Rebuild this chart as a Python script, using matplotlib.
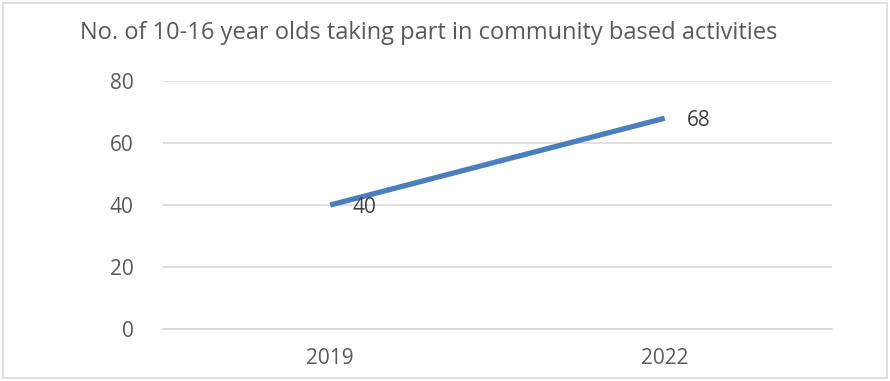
import matplotlib.pyplot as plt
from matplotlib.patches import Rectangle

years = ["2019", "2022"]
counts = [40, 68]
yticks = [0, 20, 40, 60, 80]
title = "No. of 10-16 year olds taking part in community based activities"

txt = "#595959"
blue = "#4a7ebf"
grid = "#d9d9d9"

plt.rcParams['font.family'] = ['Open Sans', 'DejaVu Sans']

fig = plt.figure(figsize=(8.9, 3.81), dpi=100)
ax = fig.add_axes([163/890, 1-329/381, (832-163)/890, (329-81)/381])

x = list(range(len(years)))
ax.plot(x, counts, color=blue, lw=3.8, solid_capstyle='butt', zorder=3)
for xi, v in zip(x, counts):
    ax.annotate(str(v), (xi, v), xytext=(16, -2), textcoords='offset points',
                ha='left', va='center', fontsize=15, color="#404040", zorder=4)

ax.set_xlim(-0.5, len(years)-0.5)
ax.set_ylim(0, 80)
ax.set_yticks(yticks)
ax.set_xticks(x)
ax.set_xticklabels(years)
ax.tick_params(axis='both', length=0, labelsize=15, labelcolor=txt)
ax.tick_params(axis='y', pad=21)
ax.tick_params(axis='x', pad=14)
ax.yaxis.grid(True, color=grid, lw=1.2)
ax.set_axisbelow(True)
for s in ['top', 'right', 'left']:
    ax.spines[s].set_visible(False)
ax.spines['bottom'].set_color(grid)
ax.spines['bottom'].set_linewidth(1.2)

fig.text(80/890, 1-33/381, title, fontsize=17, color=txt, ha='left', va='center')
fig.patches.append(Rectangle((3/890, 3/381), 884/890, 375/381, transform=fig.transFigure,
                             fill=False, edgecolor=grid, lw=1.2))

fig.savefig("out.png", dpi=100)
